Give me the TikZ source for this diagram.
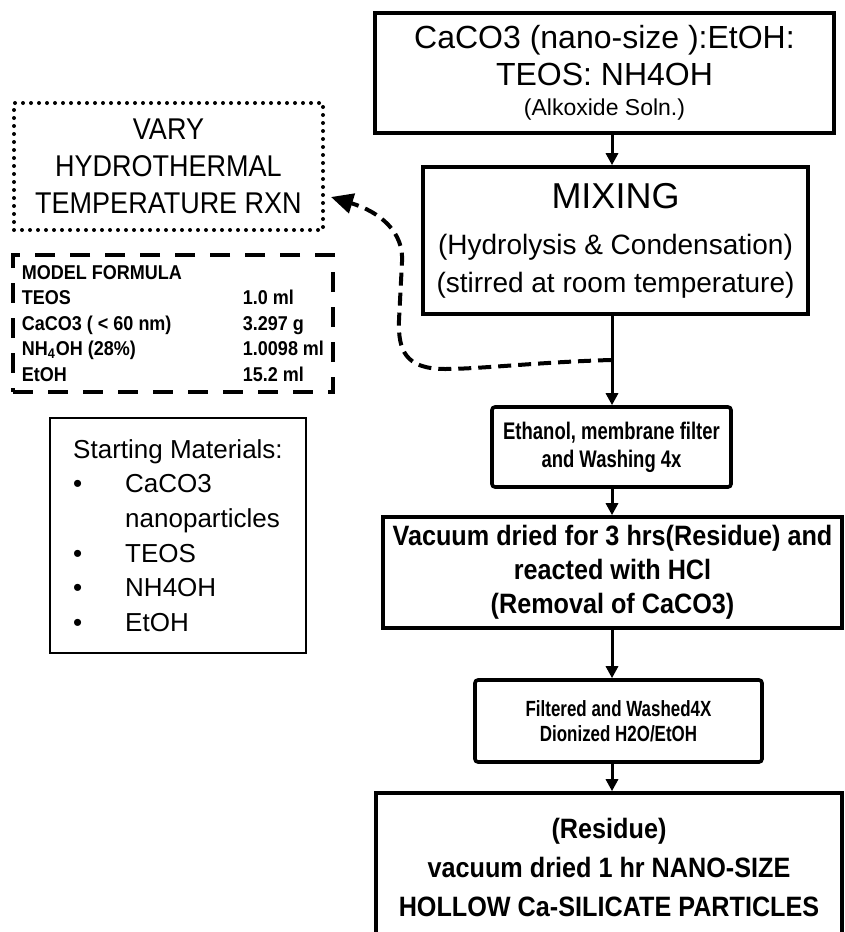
\documentclass[tikz,border=0pt]{standalone}
\usepackage{fontspec}
\setmainfont{Liberation Sans}
\newfontfamily\condfont{Liberation Sans}[FakeStretch=0.9]
\newfontfamily\narrowfont{Liberation Sans}[FakeStretch=0.77]
\usetikzlibrary{arrows.meta}

\begin{document}
\begin{tikzpicture}[
  x=0.5pt, y=-0.5pt,
  stepbox/.style={draw, line width=1.8pt, align=center, inner sep=0pt},
  notebox/.style={draw, line width=1.2pt, align=left, inner sep=0pt},
  flow/.style={-{Triangle[length=6pt,width=6pt]}, line width=1.5pt},
  feedback/.style={-{Triangle[length=11pt,width=10pt]}, line width=2pt,
                   dash pattern=on 6.5pt off 3.5pt},
  dotbox/.style={draw, line width=2pt, line cap=round,
                 dash pattern=on 0pt off 4pt, align=center, inner sep=0pt},
  dashbox/.style={draw, line width=2pt, dash pattern=on 10pt off 7.5pt,
                  align=left, inner sep=0pt}
]
  \path[use as bounding box, clip] (0,0) rectangle (845,932);

  % process chain
  \node[stepbox, minimum width=229.5pt, minimum height=60pt,
        font=\fontsize{16}{18.5}\selectfont] (alkoxide) at (604.5,73)
    {CaCO3 (nano-size ):EtOH:\\ TEOS: NH4OH\\[-3.5pt]
     \fontsize{11.5}{14}\selectfont (Alkoxide Soln.)};
  \node[stepbox, minimum width=192.5pt, minimum height=73.5pt,
        font=\fontsize{14}{19}\selectfont] (mix) at (615.5,240.5)
    {\fontsize{18}{20}\selectfont MIXING\\[4pt]
     (Hydrolysis \& Condensation)\\ (stirred at room temperature)};
  \node[stepbox, rounded corners=1.5pt, minimum width=119.5pt, minimum height=40pt,
        font=\narrowfont\bfseries\fontsize{12}{14}\selectfont] (wash) at (611.5,447)
    {Ethanol, membrane filter\\ and Washing 4x};
  \node[stepbox, minimum width=229.5pt, minimum height=55.5pt,
        font=\condfont\bfseries\fontsize{14}{17}\selectfont] (acid) at (612.5,572.5)
    {Vacuum dried for 3 hrs(Residue) and\\ reacted with HCl\\ (Removal of CaCO3)};
  \node[stepbox, rounded corners=1.5pt, minimum width=143.5pt, minimum height=41pt,
        font=\narrowfont\bfseries\fontsize{11}{12.5}\selectfont] (rinse) at (618.5,721)
    {Filtered and Washed4X\\ Dionized H2O/EtOH};
  \node[stepbox, minimum width=233pt, minimum height=74.5pt,
        font=\condfont\bfseries\fontsize{14}{19.5}\selectfont] (product) at (609,867.5)
    {(Residue)\\ vacuum dried 1 hr NANO-SIZE\\ HOLLOW Ca-SILICATE PARTICLES};

  % side notes
  \node[dotbox, minimum width=154.5pt, minimum height=63.5pt,
        font=\condfont\fontsize{15}{18.5}\selectfont] (vary) at (168.5,166.5)
    {VARY\\ HYDROTHERMAL\\ TEMPERATURE RXN};
  \node[dashbox, minimum width=160pt, minimum height=68.5pt,
        font=\condfont\bfseries\fontsize{10}{12.8}\selectfont] (formula) at (173,323.5)
    {MODEL FORMULA\\
     \makebox[110.5pt][l]{TEOS}1.0 ml\\
     \makebox[110.5pt][l]{CaCO3 ( < 60 nm)}3.297 g\\
     \makebox[110.5pt][l]{NH\textsubscript{4}OH (28\%)}1.0098 ml\\
     \makebox[110.5pt][l]{EtOH}15.2 ml};
  \node[notebox, minimum width=128pt, minimum height=117.5pt,
        font=\fontsize{13}{17.3}\selectfont] (materials) at (178,535.5)
    {Starting Materials:\\
     \makebox[26pt][l]{\textbullet}CaCO3\\
     \hspace*{26pt}nanoparticles\\
     \makebox[26pt][l]{\textbullet}TEOS\\
     \makebox[26pt][l]{\textbullet}NH4OH\\
     \makebox[26pt][l]{\textbullet}EtOH};

  % connectors
  \coordinate (spine) at (612,0);
  \coordinate (fork) at (611,360);
  \coordinate (tip) at (331,197);
  \draw[flow] (alkoxide.south -| spine) -- (mix.north -| spine);
  \draw[flow] (mix.south -| spine) -- (wash.north -| spine);
  \draw[flow] (wash.south -| spine) -- (acid.north -| spine);
  \draw[flow] (acid.south -| spine) -- (rinse.north -| spine);
  \draw[flow] (rinse.south -| spine) -- (product.north -| spine);
  \draw[feedback] (fork) .. controls (540,362) and (480,369) .. (445,369)
    .. controls (405,369) and (398,350) .. (399,320) -- (402,262)
    .. controls (404,232) and (380,212) .. (tip);
\end{tikzpicture}
\end{document}
